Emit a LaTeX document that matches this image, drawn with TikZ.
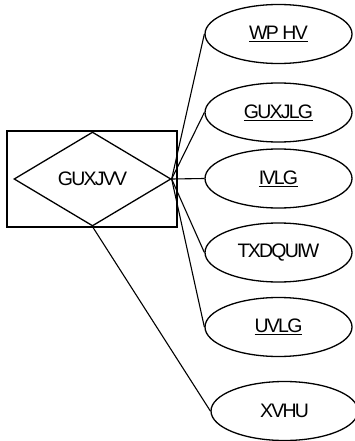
\documentclass[tikz,border=0pt]{standalone}
\usepackage{fontspec}
\setmainfont{Liberation Sans}
\newfontfamily\squish[LetterSpace=-9]{Liberation Sans}
\usetikzlibrary{shapes.geometric}
\begin{document}
\begin{tikzpicture}[x=1pt,y=-1pt,
  lbl/.style={font=\squish\fontsize{19.5}{22}\selectfont},
  attr/.style={draw, ellipse, line width=1.3pt, minimum width=147pt, minimum height=59pt, inner sep=0pt, lbl},
  ent/.style={draw, rectangle, line width=1.3pt, minimum width=170pt, minimum height=96pt, inner sep=0pt},
  rel/.style={draw, diamond, line width=1.3pt, minimum width=157pt, minimum height=94pt, inner sep=0pt, lbl},
  link/.style={line width=1.1pt}]
\useasboundingbox (0,0) rectangle (355,441);
\node[ent] (box) at (92,179) {};
\node[rel] (dia) at (92.5,179) {GUXJVV};
\node[attr] (a1) at (278.5,34) {\underline{WP HV}};
\node[attr] (a2) at (278.5,112.5) {\underline{GUXJLG}};
\node[attr] (a3) at (278.5,178.5) {\underline{IVLG}};
\node[attr] (a4) at (278.5,252.5) {TXDQUIW};
\node[attr] (a5) at (278.5,327) {\underline{UVLG}};
\node[attr] (a6) at (284.5,411) {XVHU};
\draw[link] (dia.east) -- (a1.west);
\draw[link] (dia.east) -- (a2.west);
\draw[link] (dia.east) -- (a3.west);
\draw[link] (dia.east) -- (a4.west);
\draw[link] (dia.east) -- (a5.west);
\draw[link] (dia.south) -- (a6.west);
\end{tikzpicture}
\end{document}
